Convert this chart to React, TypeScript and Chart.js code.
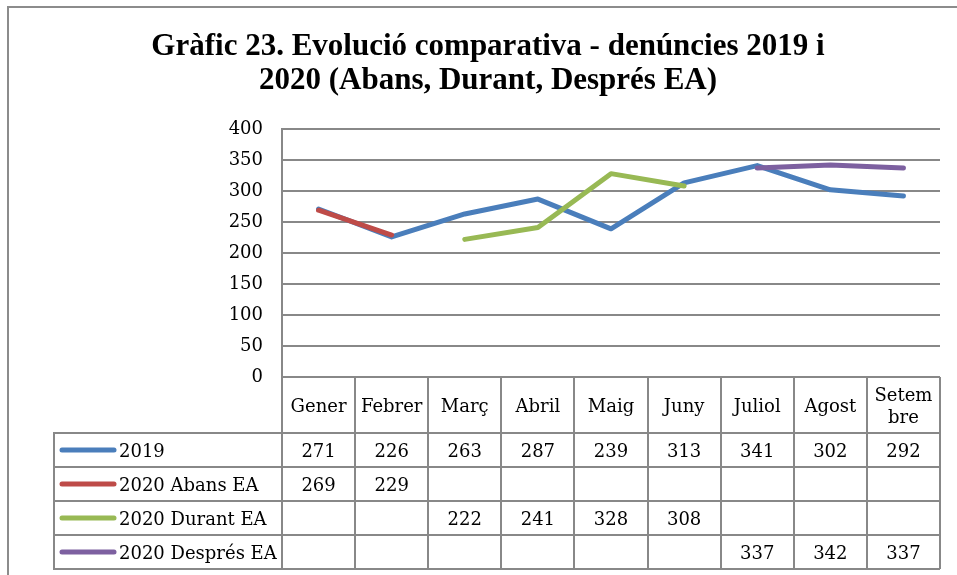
import React, { useEffect, useRef } from "react";
import { Chart, registerables } from "chart.js";

Chart.register(...registerables);

const TITLE_LINES = [
  "Gràfic 23. Evolució comparativa - denúncies 2019 i",
  "2020 (Abans, Durant, Després EA)",
];
const MONTHS = ["Gener", "Febrer", "Març", "Abril", "Maig", "Juny", "Juliol", "Agost", "Setembre"];
const MONTH_HEADER_LINES = [
  ["Gener"], ["Febrer"], ["Març"], ["Abril"], ["Maig"], ["Juny"], ["Juliol"], ["Agost"], ["Setem", "bre"],
];
const SERIES_NAMES = ["2019", "2020 Abans EA", "2020 Durant EA", "2020 Després EA"];
const VALUES_2019 = [271, 226, 263, 287, 239, 313, 341, 302, 292];
const VALUES_ABANS = [269, 229, null, null, null, null, null, null, null];
const VALUES_DURANT = [null, null, 222, 241, 328, 308, null, null, null];
const VALUES_DESPRES = [null, null, null, null, null, null, 337, 342, 337];
const Y_MIN = 0;
const Y_MAX = 400;
const Y_STEP = 50;

const COLORS = ["#4a7ebb", "#be4b48", "#98b954", "#7d60a0"];
const GRID = "#888888";
const SERIF = "'DejaVu Serif', serif";
const TITLE_FONT = "bold 31px 'Liberation Serif', serif";

const tablePlugin = {
  id: "frameAndTable",
  beforeDraw(chart: any) {
    const ctx = chart.ctx;
    ctx.save();
    ctx.fillStyle = "#ffffff";
    ctx.fillRect(0, 0, chart.width, chart.height);
    // outer frame
    ctx.strokeStyle = "#8c8c8c";
    ctx.lineWidth = 2;
    ctx.beginPath();
    ctx.moveTo(8, chart.height);
    ctx.lineTo(8, 7);
    ctx.lineTo(chart.width, 7);
    ctx.stroke();
    // title
    ctx.fillStyle = "#000000";
    ctx.font = TITLE_FONT;
    ctx.textAlign = "center";
    ctx.textBaseline = "alphabetic";
    const cx = 488;
    ctx.fillText(TITLE_LINES[0], cx, 55);
    ctx.fillText(TITLE_LINES[1], cx, 89);
    ctx.restore();
  },
  afterDraw(chart: any) {
    const ctx = chart.ctx;
    const area = chart.chartArea;
    const xs = chart.scales.x;
    const n = MONTHS.length;
    const step = (area.right - area.left) / n;
    const headerBottom = area.bottom + 56;
    const rowH = 34;
    const tableLeft = 54;
    const tableBottom = headerBottom + rowH * SERIES_NAMES.length;
    ctx.save();
    ctx.strokeStyle = GRID;
    ctx.lineWidth = 2;
    ctx.beginPath();
    for (let i = 0; i <= n; i++) {
      const x = Math.round(area.left + i * step);
      ctx.moveTo(x, area.bottom);
      ctx.lineTo(x, tableBottom);
    }
    for (let r = 0; r <= SERIES_NAMES.length; r++) {
      const y = headerBottom + r * rowH;
      ctx.moveTo(tableLeft, y);
      ctx.lineTo(area.right, y);
    }
    ctx.moveTo(tableLeft, headerBottom - 1);
    ctx.lineTo(tableLeft, tableBottom + 1);
    ctx.stroke();

    ctx.fillStyle = "#000000";
    ctx.font = "18px " + SERIF;
    ctx.textAlign = "center";
    ctx.textBaseline = "alphabetic";
    // header
    MONTH_HEADER_LINES.forEach((lines, i) => {
      const x = xs.getPixelForValue(i);
      if (lines.length === 1) {
        ctx.fillText(lines[0], x, area.bottom + 35);
      } else {
        ctx.fillText(lines[0], x, area.bottom + 24);
        ctx.fillText(lines[1], x, area.bottom + 46);
      }
    });
    const allSeries = [VALUES_2019, VALUES_ABANS, VALUES_DURANT, VALUES_DESPRES];
    allSeries.forEach((vals, r) => {
      const cy = headerBottom + r * rowH + rowH / 2;
      // legend key
      ctx.strokeStyle = COLORS[r];
      ctx.lineWidth = 5;
      ctx.lineCap = "round";
      ctx.beginPath();
      ctx.moveTo(62, cy);
      ctx.lineTo(114, cy);
      ctx.stroke();
      ctx.textAlign = "left";
      ctx.fillText(SERIES_NAMES[r], 119, cy + 6.5);
      ctx.textAlign = "center";
      vals.forEach((v, i) => {
        if (v === null) return;
        ctx.fillText(String(v), xs.getPixelForValue(i), cy + 6.5);
      });
    });
    ctx.restore();
  },
};

export default function App() {
  const ref = useRef<HTMLCanvasElement | null>(null);
  useEffect(() => {
    if (!ref.current) return;
    const mk = (i: number, data: (number | null)[], order: number) => ({
      label: SERIES_NAMES[i],
      data,
      borderColor: COLORS[i],
      backgroundColor: COLORS[i],
      borderWidth: 5,
      pointRadius: 0,
      pointHoverRadius: 0,
      tension: 0,
      spanGaps: false,
      borderCapStyle: "round",
      borderJoinStyle: "round",
      fill: false,
      order,
    });
    const chart = new Chart(ref.current, {
      type: "line",
      data: {
        labels: MONTHS,
        datasets: [
          mk(0, VALUES_2019, 1),
          mk(1, VALUES_ABANS, 0),
          mk(2, VALUES_DURANT, 0),
          mk(3, VALUES_DESPRES, 0),
        ] as any,
      },
      plugins: [tablePlugin],
      options: {
        animation: false,
        responsive: false,
        devicePixelRatio: 1,
        layout: { padding: { top: 129, left: 54, right: 17, bottom: 0 } },
        plugins: {
          legend: { display: false },
          title: { display: false },
          tooltip: { enabled: false },
        },
        scales: {
          x: {
            type: "category",
            offset: true,
            grid: { display: false },
            border: { display: false },
            ticks: { display: false },
            afterFit: (s: any) => {
              s.height = 198;
            },
          },
          y: {
            min: Y_MIN,
            max: Y_MAX,
            ticks: {
              stepSize: Y_STEP,
              color: "#000000",
              padding: 19,
              font: { family: SERIF, size: 18 },
            },
            grid: { color: GRID, lineWidth: 2, drawTicks: false },
            border: { color: GRID, width: 2 },
            afterFit: (s: any) => {
              s.width = 228;
            },
          },
        },
      } as any,
    });
    return () => chart.destroy();
  }, []);
  return (
    <div style={{ position: "fixed", left: 0, top: 0, width: 957, height: 575, background: "#fff" }}>
      <canvas ref={ref} width={957} height={575} style={{ width: 957, height: 575, display: "block" }} />
    </div>
  );
}
